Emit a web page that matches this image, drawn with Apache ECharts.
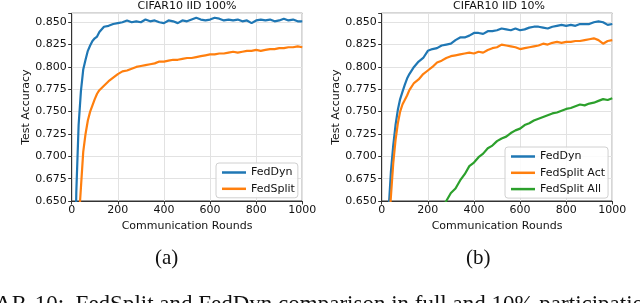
<!DOCTYPE html>
<html>
<head>
<meta charset="utf-8">
<script src="https://cdn.jsdelivr.net/npm/echarts@6/dist/echarts.min.js"></script>
<style>html,body{margin:0;padding:0;background:#fff;}#c{width:640px;height:303px;}</style>
</head>
<body>
<div id="c"></div>
<script>
const rounds = [0,10,20,30,40,50,60,70,80,90,100,110,120,140,160,180,200,220,240,260,280,300,320,340,360,380,400,420,440,460,480,500,520,540,560,580,600,620,640,660,680,700,720,740,760,780,800,820,840,860,880,900,920,940,960,980,1000];

// (a) CIFAR10 IID 100%
const fedDynFull = [0.30,0.50,0.66,0.735,0.773,0.797,0.808,0.818,0.824,0.829,0.832,0.834,0.839,0.845,0.846,0.848,0.849,0.850,0.852,0.850,0.851,0.850,0.853,0.851,0.852,0.850,0.849,0.852,0.851,0.849,0.852,0.851,0.853,0.855,0.853,0.852,0.853,0.855,0.854,0.852,0.853,0.852,0.853,0.851,0.852,0.849,0.852,0.853,0.852,0.853,0.851,0.852,0.854,0.852,0.853,0.851,0.851];
const fedSplitFull = [0.40,0.50,0.57,0.625,0.665,0.705,0.725,0.740,0.750,0.757,0.764,0.770,0.774,0.779,0.784,0.788,0.792,0.795,0.796,0.798,0.800,0.801,0.802,0.803,0.804,0.806,0.806,0.807,0.808,0.808,0.809,0.810,0.810,0.811,0.812,0.813,0.814,0.814,0.815,0.815,0.816,0.817,0.816,0.817,0.818,0.818,0.819,0.818,0.819,0.820,0.820,0.821,0.821,0.822,0.822,0.823,0.822];

// (b) CIFAR10 IID 10%
const fedDyn10 = [0.40,0.50,0.58,0.64,0.683,0.712,0.735,0.752,0.764,0.772,0.780,0.787,0.792,0.800,0.806,0.810,0.818,0.820,0.821,0.824,0.825,0.826,0.830,0.833,0.833,0.835,0.838,0.838,0.837,0.840,0.840,0.841,0.843,0.842,0.841,0.843,0.841,0.842,0.844,0.845,0.845,0.844,0.843,0.845,0.846,0.847,0.846,0.847,0.846,0.848,0.848,0.848,0.850,0.851,0.850,0.847,0.848];
const fedSplitAct10 = [0.40,0.48,0.56,0.620,0.655,0.692,0.718,0.737,0.750,0.758,0.763,0.768,0.774,0.782,0.786,0.792,0.796,0.800,0.805,0.807,0.810,0.812,0.813,0.814,0.815,0.816,0.815,0.817,0.816,0.819,0.821,0.822,0.825,0.824,0.823,0.822,0.820,0.821,0.822,0.823,0.824,0.826,0.825,0.827,0.828,0.827,0.828,0.828,0.829,0.829,0.830,0.831,0.832,0.830,0.826,0.829,0.830];
const fedSplitAll10 = [0.20,0.30,0.36,0.40,0.43,0.46,0.48,0.50,0.515,0.53,0.54,0.55,0.56,0.575,0.59,0.60,0.612,0.623,0.633,0.642,0.650,0.659,0.664,0.673,0.680,0.689,0.693,0.699,0.703,0.709,0.712,0.717,0.720,0.722,0.726,0.729,0.731,0.735,0.737,0.740,0.742,0.744,0.746,0.748,0.749,0.751,0.753,0.754,0.756,0.758,0.757,0.759,0.760,0.762,0.764,0.763,0.765];

const yTickLabels = ['0.650','0.675','0.700','0.725','0.750','0.775','0.800','0.825','0.850'];
const xTickLabels = ['0','200','400','600','800','1000'];
const titles = ['CIFAR10 IID 100%','CIFAR10 IID 10%'];
const subLabels = ['(a)','(b)'];
const caption = 'CIFAR-10:  FedSplit and FedDyn comparison in full and 10% participation.';

const C_BLUE = '#1f77b4', C_ORANGE = '#ff7f0e', C_GREEN = '#2ca02c';
const FONT = 'DejaVu Sans';
const pair = (vals) => rounds.map((r, i) => [r, vals[i]]);

const gridPos = [{left:71.7, top:13.3, width:230.6, height:187.7},{left:381.7, top:13.3, width:230.6, height:187.7}];

function xAx(i){
  return {
    type:'value', gridIndex:i, min:0, max:1000, interval:200,
    name:'Communication Rounds', nameLocation:'middle', nameGap:17,
    nameTextStyle:{fontFamily:FONT, fontSize:11, color:'#111'},
    axisLine:{show:true, lineStyle:{color:'#333', width:1}},
    axisTick:{show:true, length:3.5, lineStyle:{color:'#333'}},
    axisLabel:{fontFamily:FONT, fontSize:11, color:'#111', margin:4,
      formatter:(v)=>{const s=String(v); return xTickLabels.includes(s)?s:'';}},
    splitLine:{show:true, lineStyle:{color:'#e2e2e2', width:1}}
  };
}
function yAx(i){
  return {
    type:'value', gridIndex:i, min:0.65, max:0.86, interval:0.025,
    name:'Test Accuracy', nameLocation:'middle', nameGap:39,
    nameTextStyle:{fontFamily:FONT, fontSize:11, color:'#111'},
    axisLine:{show:true, lineStyle:{color:'#333', width:1}},
    axisTick:{show:true, length:3.5, lineStyle:{color:'#333'}},
    axisLabel:{fontFamily:FONT, fontSize:11, color:'#111', margin:5,
      formatter:(v)=>{const s=v.toFixed(3); return yTickLabels.includes(s)?s:'';}},
    splitLine:{show:true, lineStyle:{color:'#e2e2e2', width:1}}
  };
}
function ser(name, vals, color, gi){
  return {type:'line', name, data:pair(vals), xAxisIndex:gi, yAxisIndex:gi,
    showSymbol:false, symbol:'none', clip:true, animation:false,
    lineStyle:{color, width:2.2}, itemStyle:{color}};
}
const legendCommon = {
  orient:'vertical', icon:'rect', itemWidth:24, itemHeight:2.5, itemGap:5.3,
  backgroundColor:'rgba(255,255,255,0.85)', borderColor:'#d0d0d0', borderWidth:1, borderRadius:3,
  textStyle:{fontFamily:FONT, fontSize:11, color:'#111'}, padding:[4,3,3.5,6]
};

const chart = echarts.init(document.getElementById('c'), null, {renderer:'canvas'});
chart.setOption({
  animation:false,
  backgroundColor:'#fff',
  title:[
    {text:titles[0], left:187, top:1, textAlign:'center', padding:0, textStyle:{fontFamily:FONT, fontSize:11, fontWeight:'normal', color:'#111'}},
    {text:titles[1], left:499, top:1, textAlign:'center', padding:0, textStyle:{fontFamily:FONT, fontSize:11, fontWeight:'normal', color:'#111'}}
  ],
  grid: gridPos.map(g => Object.assign({show:true, borderColor:'#333', borderWidth:1, containLabel:false}, g)),
  xAxis:[xAx(0), xAx(1)],
  yAxis:[yAx(0), yAx(1)],
  legend:[
    Object.assign({}, legendCommon, {left:216, top:163, data:['FedDyn','FedSplit']}),
    Object.assign({}, legendCommon, {left:505, top:147, data:['FedDyn ','FedSplit Act','FedSplit All']})
  ],
  series:[
    ser('FedDyn', fedDynFull, C_BLUE, 0),
    ser('FedSplit', fedSplitFull, C_ORANGE, 0),
    ser('FedDyn ', fedDyn10, C_BLUE, 1),
    ser('FedSplit Act', fedSplitAct10, C_ORANGE, 1),
    ser('FedSplit All', fedSplitAll10, C_GREEN, 1)
  ],
  graphic:[
    {type:'text', left:155, top:248, style:{text:subLabels[0], font:'21px "Liberation Serif"', fill:'#111'}},
    {type:'text', left:466, top:248, style:{text:subLabels[1], font:'21px "Liberation Serif"', fill:'#111'}},
    {type:'text', x:-39, y:293, style:{text:caption, font:'23px "Liberation Serif"', fill:'#111', textVerticalAlign:'top'}}
  ]
});
</script>
</body>
</html>
